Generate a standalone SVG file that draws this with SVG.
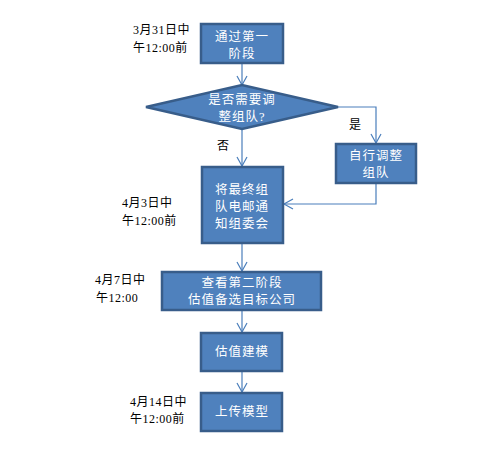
<svg xmlns="http://www.w3.org/2000/svg" width="500" height="450" viewBox="0 0 500 450">
<defs>
<marker id="arr" markerWidth="12" markerHeight="12" refX="10" refY="6" orient="auto" markerUnits="userSpaceOnUse">
<path d="M1,1 L10,6 L1,11" fill="none" stroke="#4a7ebb" stroke-width="1.2"/>
</marker>
</defs>
<style>
.box{fill:#4f81bd;stroke:#385d8a;stroke-width:2.5}
.t{fill:#fff;font-family:"Liberation Serif","Noto Sans CJK SC",serif;font-size:12.5px;letter-spacing:1px;text-anchor:middle}
.l{fill:#000;font-family:"Liberation Serif","Noto Sans CJK SC",serif;font-size:12px;letter-spacing:0.5px}
.c{fill:none;stroke:#4a7ebb;stroke-width:1.2;marker-end:url(#arr)}
</style>
<rect width="500" height="450" fill="#fff"/>
<g id="connectors">
<path class="c" d="M242,63 L242,85"/>
<path class="c" d="M338,107 L376,107 L376,143"/>
<path class="c" d="M242,129 L242,166"/>
<path class="c" d="M376,183 L376,204 L284,204"/>
<path class="c" d="M242,244 L242,271"/>
<path class="c" d="M242,311 L242,332"/>
<path class="c" d="M242,372 L242,392"/>
<text class="l" x="349" y="129">是</text>
<text class="l" x="217" y="150">否</text>
</g>
<g id="n1">
<rect class="box" x="201" y="24" width="82" height="39"/>
<text class="t" x="242" y="41">通过第一</text>
<text class="t" x="242" y="58">阶段</text>
</g>
<g id="n2">
<polygon class="box" points="146,107 242,85 338,107 242,129"/>
<text class="t" x="242" y="104">是否需要调</text>
<text class="t" x="242" y="121">整组队?</text>
</g>
<g id="n3">
<rect class="box" x="336" y="144" width="80" height="39"/>
<text class="t" x="376" y="160">自行调整</text>
<text class="t" x="376" y="177">组队</text>
</g>
<g id="n4">
<rect class="box" x="202" y="167" width="81" height="76"/>
<text class="t" x="242" y="194">将最终组</text>
<text class="t" x="242" y="211">队电邮通</text>
<text class="t" x="242" y="228">知组委会</text>
</g>
<g id="n5">
<rect class="box" x="162" y="272" width="159" height="38"/>
<text class="t" x="242" y="287">查看第二阶段</text>
<text class="t" x="242" y="304">估值备选目标公司</text>
</g>
<g id="n6">
<rect class="box" x="201" y="333" width="81" height="38"/>
<text class="t" x="242" y="356">估值建模</text>
</g>
<g id="n7">
<rect class="box" x="201" y="393" width="81" height="38"/>
<text class="t" x="242" y="416">上传模型</text>
</g>
<g id="labels">
<text class="l" x="133" y="34">3月31日中</text>
<text class="l" x="133" y="52">午12:00前</text>
<text class="l" x="122" y="207">4月3日中</text>
<text class="l" x="122" y="225">午12:00前</text>
<text class="l" x="95" y="284">4月7日中</text>
<text class="l" x="96" y="302">午12:00</text>
<text class="l" x="130" y="406">4月14日中</text>
<text class="l" x="130" y="423">午12:00前</text>
</g>
</svg>
